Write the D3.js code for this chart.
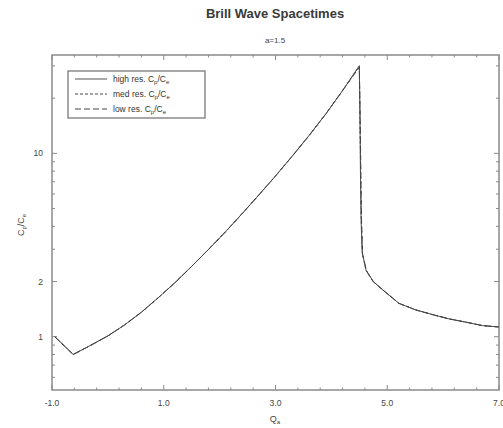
<!DOCTYPE html>
<html><head><meta charset="utf-8">
<script src="https://cdn.jsdelivr.net/npm/d3@7"></script>
<style>body{margin:0;background:#fff}svg{display:block;font-family:"Liberation Sans",Arial,sans-serif}</style>
</head><body><svg id="c" width="503" height="428"></svg>
<script>
// data
const qHigh = [-0.95,-0.62,-0.3,0.0,0.3,0.6,0.9,1.2,1.5,1.8,2.1,2.4,2.7,3.0,3.3,3.6,3.9,4.2,4.5,4.51,4.52,4.53,4.55,4.62,4.75,4.92,5.21,5.51,5.81,6.11,6.41,6.70,7.0];
const rHigh = [1.00,0.80,0.90,1.01,1.16,1.36,1.63,1.97,2.42,2.99,3.72,4.68,5.92,7.53,9.66,12.5,16.4,22.0,30.1,18.0,8.0,4.5,2.9,2.31,2.0,1.80,1.52,1.40,1.32,1.25,1.20,1.15,1.13];
const qMed = [-0.95,-0.62,-0.3,0.0,0.3,0.6,0.9,1.2,1.5,1.8,2.1,2.4,2.7,3.0,3.3,3.6,3.9,4.2,4.5,4.51,4.525,4.535,4.555,4.62,4.75,4.92,5.21,5.51,5.81,6.11,6.41,6.70,7.0];
const rMed = [1.00,0.80,0.90,1.01,1.16,1.36,1.63,1.97,2.42,2.99,3.72,4.68,5.92,7.53,9.66,12.5,16.4,22.0,29.8,17.0,7.5,4.4,2.85,2.30,2.0,1.80,1.52,1.40,1.32,1.25,1.20,1.15,1.13];
const qLow = [-0.95,-0.62,-0.3,0.0,0.3,0.6,0.9,1.2,1.5,1.8,2.1,2.4,2.7,3.0,3.3,3.6,3.9,4.2,4.5,4.515,4.53,4.54,4.56,4.63,4.75,4.92,5.21,5.51,5.81,6.11,6.41,6.70,7.0];
const rLow = [1.00,0.80,0.90,1.01,1.16,1.36,1.63,1.97,2.42,2.99,3.72,4.68,5.92,7.53,9.66,12.5,16.4,22.0,29.5,16.0,7.0,4.3,2.8,2.28,1.99,1.80,1.52,1.40,1.32,1.25,1.20,1.15,1.13];
const xMajorTicks = [-1.0,1.0,3.0,5.0,7.0];
const xTickLabels = ["-1.0","1.0","3.0","5.0","7.0"];
const yTicks = [0.6,0.7,0.8,0.9,1,2,3,4,5,6,7,8,9,10,20,30];
const yLabeled = [1,2,10];
const yTickLabels = ["1","2","10"];
const legendNames = ["high res.","med res.","low res."];

const svg = d3.select("#c");
const L=52,R=499,T=55,B=390;
const x = d3.scaleLinear().domain([-1,7]).range([L,R]);
const y = d3.scaleLog().domain([0.512,34.4]).range([B,T]);
const frameCol="#8a8a8a", textCol="#444";

// frame
svg.append("rect").attr("x",L).attr("y",T).attr("width",R-L).attr("height",B-T)
  .attr("fill","none").attr("stroke",frameCol).attr("stroke-width",1.5);

// x ticks
const xMinor = d3.range(-1,7.001,0.4).map(v=>+v.toFixed(2)).filter(v=>!xMajorTicks.some(m=>Math.abs(m-v)<1e-6));
const gx = svg.append("g").attr("stroke",frameCol).attr("stroke-width",1);
xMajorTicks.forEach(v=>{
  gx.append("line").attr("x1",x(v)).attr("x2",x(v)).attr("y1",B).attr("y2",B-5);
  gx.append("line").attr("x1",x(v)).attr("x2",x(v)).attr("y1",T).attr("y2",T+5);
});
xMinor.forEach(v=>{
  gx.append("line").attr("x1",x(v)).attr("x2",x(v)).attr("y1",B).attr("y2",B-2.5);
  gx.append("line").attr("x1",x(v)).attr("x2",x(v)).attr("y1",T).attr("y2",T+2.5);
});
xMajorTicks.forEach((v,i)=>{
  svg.append("text").attr("x",x(v)).attr("y",B+16).attr("text-anchor","middle")
    .attr("font-size",8.5).attr("fill",textCol).text(xTickLabels[i]);
});

// y ticks
yTicks.forEach(v=>{
  const len = yLabeled.includes(v)?5:3;
  gx.append("line").attr("x1",L).attr("x2",L+len).attr("y1",y(v)).attr("y2",y(v));
  gx.append("line").attr("x1",R).attr("x2",R-len).attr("y1",y(v)).attr("y2",y(v));
});
yLabeled.forEach((v,i)=>{
  svg.append("text").attr("x",L-9).attr("y",y(v)+3).attr("text-anchor","end")
    .attr("font-size",8.5).attr("fill",textCol).text(yTickLabels[i]);
});

// titles
svg.append("text").attr("x",275).attr("y",18).attr("text-anchor","middle")
  .attr("font-size",13).attr("font-weight","bold").attr("fill","#3a3a3a").text("Brill Wave Spacetimes");
svg.append("text").attr("x",275).attr("y",43).attr("text-anchor","middle")
  .attr("font-size",8).attr("fill",textCol).text("a=1.5");

// axis labels
const xl = svg.append("text").attr("x",275).attr("y",422).attr("text-anchor","middle").attr("font-size",9).attr("fill",textCol);
xl.append("tspan").text("Q");
xl.append("tspan").attr("font-size",6).attr("dy",2).text("a");
const yl = svg.append("text").attr("transform","translate(24,225) rotate(-90)").attr("text-anchor","middle").attr("font-size",9).attr("fill",textCol);
yl.append("tspan").text("C");
yl.append("tspan").attr("font-size",6).attr("dy",2).text("p");
yl.append("tspan").attr("dy",-2).text("/C");
yl.append("tspan").attr("font-size",6).attr("dy",2).text("e");

// lines
const series = [
  {q:qHigh,r:rHigh,dash:null,col:"#555",w:1},
  {q:qMed,r:rMed,dash:"3,2",col:"#444",w:1},
  {q:qLow,r:rLow,dash:"6,3",col:"#444",w:1}
];
const line = d3.line().x(d=>x(d[0])).y(d=>y(d[1]));
series.forEach(s=>{
  const pts = s.q.map((q,i)=>[q,s.r[i]]);
  svg.append("path").attr("d",line(pts)).attr("fill","none").attr("stroke",s.col)
    .attr("stroke-width",s.w).attr("stroke-dasharray",s.dash);
});

// legend
const lg = svg.append("g");
lg.append("rect").attr("x",68).attr("y",71).attr("width",137).attr("height",47)
  .attr("fill","#fff").attr("stroke",frameCol).attr("stroke-width",1.5);
series.forEach((s,i)=>{
  const yy = 79+i*15;
  lg.append("line").attr("x1",75).attr("x2",107).attr("y1",yy).attr("y2",yy)
    .attr("stroke",s.col).attr("stroke-width",1).attr("stroke-dasharray",s.dash);
  const t = lg.append("text").attr("x",113).attr("y",yy+3).attr("font-size",8.5).attr("fill","#333");
  t.append("tspan").text(legendNames[i]+" C");
  t.append("tspan").attr("font-size",6).attr("dy",2).text("p");
  t.append("tspan").attr("dy",-2).text("/C");
  t.append("tspan").attr("font-size",6).attr("dy",2).text("e");
});
</script></body></html>
